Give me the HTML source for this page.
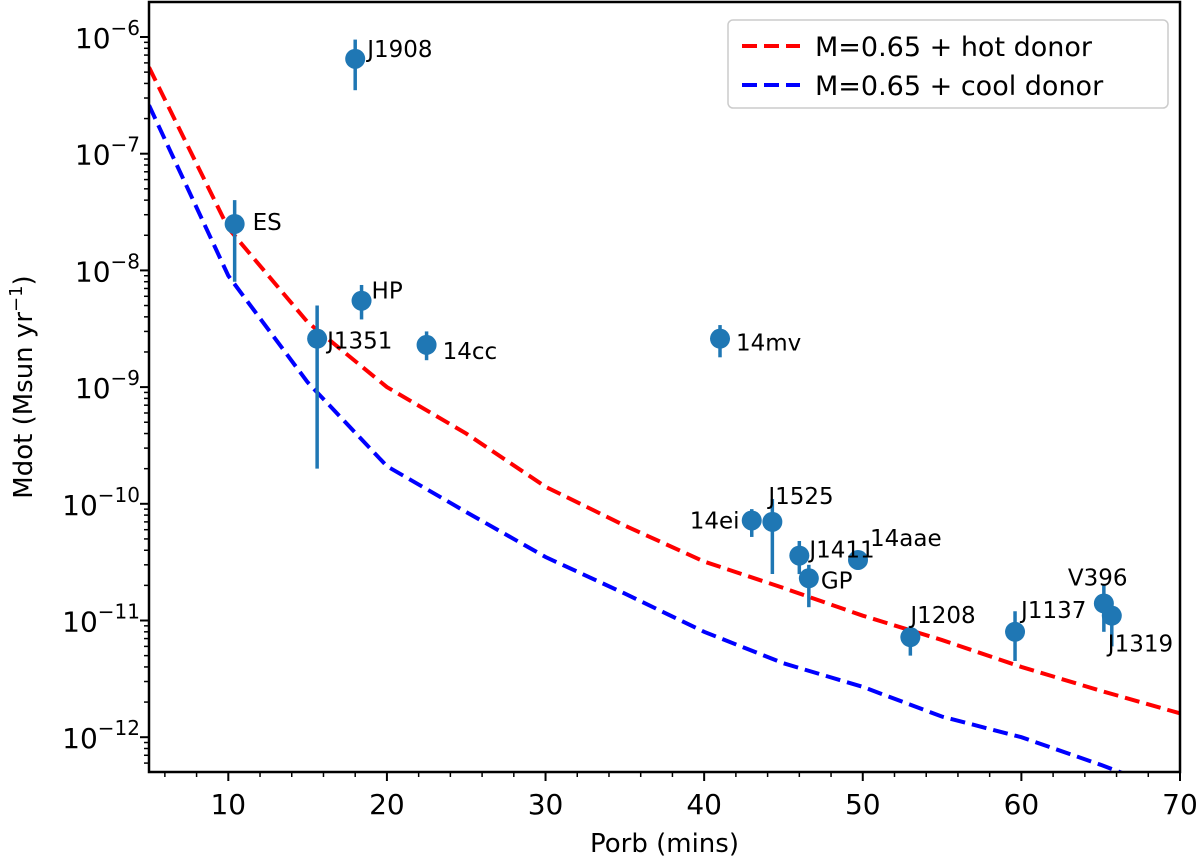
<!DOCTYPE html>
<html><head><meta charset="utf-8"><style>
body{margin:0;background:#fff}
svg text{font-family:"DejaVu Sans","Liberation Sans",sans-serif;fill:#000}
</style></head><body>
<svg id="c" width="1200" height="859" xmlns="http://www.w3.org/2000/svg"></svg>
<script>
const redX=[5,10,15,20,25,30,35,40,45,50,55,60,65,70];
const redY=[5.5e-7,2.3e-8,3.6e-9,1.0e-9,4.0e-10,1.4e-10,6.5e-11,3.2e-11,1.9e-11,1.1e-11,6.8e-12,4.0e-12,2.5e-12,1.6e-12];
const blueX=[5,10,15,20,25,30,35,40,45,50,55,60,65,70];
const blueY=[2.6e-7,9e-9,1.1e-9,2.1e-10,8.5e-11,3.5e-11,1.7e-11,8e-12,4.3e-12,2.7e-12,1.5e-12,1.0e-12,5.8e-13,3.2e-13];
const ptNames=["ES","J1908","HP","J1351","14cc","14mv","14ei","J1525","J1411","GP","14aae","J1208","J1137","V396","J1319"];
const ptX=[10.4,18,18.4,15.6,22.5,41,43,44.3,46,46.6,49.7,53,59.6,65.2,65.7];
const ptY=[2.5e-8,6.5e-7,5.5e-9,2.6e-9,2.3e-9,2.6e-9,7.2e-11,7e-11,3.6e-11,2.3e-11,3.3e-11,7.2e-12,8e-12,1.4e-11,1.1e-11];
const ptLo=[8e-9,3.5e-7,3.8e-9,2e-10,1.7e-9,1.8e-9,5.2e-11,2.5e-11,2.5e-11,1.3e-11,3e-11,5e-12,4.5e-12,8e-12,6e-12];
const ptHi=[4e-8,9.5e-7,7.5e-9,5e-9,3e-9,3.4e-9,9e-11,1.1e-10,4.8e-11,3e-11,3.6e-11,9e-12,1.2e-11,2e-11,1.4e-11];
const lblDx=[18,12,10,10,16,16,-62,-4,10,12,12,0,6,-36,-4];
const lblDy=[-2,-10,-10,2,6,4,0,-26,-6,2,-22,-22,-22,-26,28];
const xTicks=[10,20,30,40,50,60,70];
const yTicks=[-6,-7,-8,-9,-10,-11,-12];

const L=149,R=1180,T=2,B=772;
const sx=v=>L+(v-5)/(70-5)*(R-L);
const sy=v=>37+(-6-Math.log10(v))*116.7;
const svg=document.getElementById('c');
const NS='http://www.w3.org/2000/svg';
function mk(t,a,p){const e=document.createElementNS(NS,t);for(const k in a)e.setAttribute(k,a[k]);(p||svg).appendChild(e);return e;}

const clip=mk('clipPath',{id:'pc'});mk('rect',{x:L,y:T,width:R-L,height:B-T},clip);
const g=mk('g',{'clip-path':'url(#pc)'});
function curve(xs,ys,col,name){
  const p=mk('path',{d:xs.map((x,i)=>(i?'L':'M')+sx(x)+','+sy(ys[i])).join(''),fill:'none',stroke:col,'stroke-width':4,'stroke-dasharray':'15,7'},g);
  
  
}
curve(redX,redY,'#f00','hot-donor-curve');
curve(blueX,blueY,'#00f','cool-donor-curve');

ptNames.forEach((n,i)=>{
  const x=sx(ptX[i]),y=sy(ptY[i]);
  const e=mk('line',{x1:x,x2:x,y1:sy(ptLo[i]),y2:sy(ptHi[i]),stroke:'#1f77b4','stroke-width':3.5},g);
  
  
  const c=mk('circle',{cx:x,cy:y,r:10,fill:'#1f77b4'},g);
  
  
  const t=mk('text',{x:x+lblDx[i],y:y+lblDy[i]+8,'font-size':23});
  t.textContent=n;
  
  
});

mk('rect',{x:L,y:T,width:R-L,height:B-T,fill:'none',stroke:'#000','stroke-width':2.5});
for(let v=6;v<=70;v+=2){const x=sx(v);const major=v%10===0;mk('line',{x1:x,x2:x,y1:B,y2:B+(major?9:5),stroke:'#000','stroke-width':major?2:1.5});}
xTicks.forEach(v=>{const t=mk('text',{x:sx(v),y:B+42,'font-size':28,'text-anchor':'middle'});t.textContent=v;
  
  });
for(let d=-13;d<=-6;d++){for(let m=1;m<10;m++){const v=m*Math.pow(10,d);const y=sy(v);if(y<T||y>B)continue;mk('line',{x1:L,x2:L-(m===1?9:5),y1:y,y2:y,stroke:'#000','stroke-width':m===1?2:1.5});}}
yTicks.forEach(d=>{const t=mk('text',{x:140,y:sy(Math.pow(10,d))+11,'font-size':28,'text-anchor':'end'});
  t.innerHTML='10<tspan dy="-13" font-size="20">−'+(-d)+'</tspan>';
  
  });
const xl=mk('text',{x:(L+R)/2,y:852,'font-size':26,'text-anchor':'middle'});xl.textContent='Porb (mins)';

const yl=mk('text',{x:0,y:0,'font-size':26,'text-anchor':'middle',transform:'translate(32,'+((T+B)/2)+') rotate(-90)'});
yl.innerHTML='Mdot (Msun yr<tspan dy="-10" font-size="18">−1</tspan><tspan dy="10">)</tspan>';

const lg=mk('g',{});
mk('rect',{x:728,y:20,width:440,height:88,rx:5,fill:'#fff',stroke:'#ccc','stroke-width':1.5},lg);
[['#f00','M=0.65 + hot donor',46],['#00f','M=0.65 + cool donor',85]].forEach(([c,s,y])=>{
  mk('line',{x1:742,x2:800,y1:y,y2:y,stroke:c,'stroke-width':4,'stroke-dasharray':'15,7'},lg);
  const t=mk('text',{x:815,y:y+10,'font-size':27},lg);t.textContent=s;
  
});
</script>
</body></html>
